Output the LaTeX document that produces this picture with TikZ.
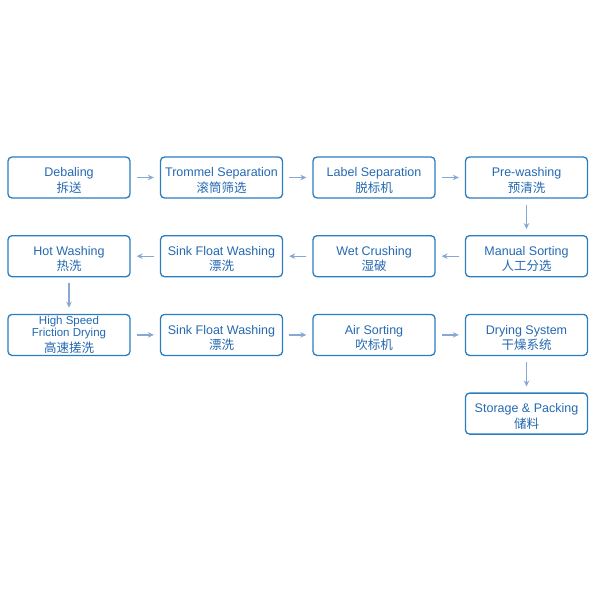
\documentclass[tikz,border=0pt]{standalone}
\usepackage{fontspec}
\setmainfont{Liberation Sans}
\newfontfamily\cjk{Noto Sans CJK SC}
\usetikzlibrary{arrows.meta, positioning}

\definecolor{boxblue}{RGB}{42,125,190}
\definecolor{textblue}{RGB}{36,104,176}
\definecolor{arrowblue}{RGB}{135,168,210}

% two-line label: english over chinese
\newcommand{\steptext}[2]{\rule{0pt}{15pt}#1\\{\cjk #2}}

\tikzset{
	stage/.style={draw=boxblue, line width=1.3pt, rounded corners=4pt, minimum width=122pt, minimum height=41pt, inner sep=1pt, align=center, text=textblue, font=\fontsize{12.5}{15.5}\selectfont},
	flow/.style={draw=arrowblue, line width=1.3pt, -{Stealth[length=6pt, width=5.5pt]}, shorten >=6pt, shorten <=6pt}
}

\begin{document}
\begin{tikzpicture}[x=1pt, y=1pt, node distance=78.7pt and 152.5pt, on grid]
	\useasboundingbox (0,0) rectangle (600,-600);

	% first row
	\node[stage] (deb) at (69,-177.5)	{\steptext{Debaling}{拆送}};
	\node[stage, right=of deb] (trom)	{\steptext{Trommel Separation}{滚筒筛选}};
	\node[stage, right=of trom] (label)	{\steptext{Label Separation}{脱标机}};
	\node[stage, right=of label] (pre)	{\steptext{Pre-washing}{预清洗}};

	% second row
	\node[stage, below=of pre] (man)	{\steptext{Manual Sorting}{人工分选}};
	\node[stage, left=of man] (wet)		{\steptext{Wet Crushing}{湿破}};
	\node[stage, left=of wet] (sinka)	{\steptext{Sink Float Washing}{漂洗}};
	\node[stage, left=of sinka] (hot)	{\steptext{Hot Washing}{热洗}};

	% third row
	\node[stage, below=of hot, font=\fontsize{11.5}{11.8}\selectfont] (fric)	{High Speed\\Friction Drying\\[1.5pt]{\cjk\fontsize{12.5}{15}\selectfont 高速搓洗}};
	\node[stage, right=of fric] (sinkb)	{\steptext{Sink Float Washing}{漂洗}};
	\node[stage, right=of sinkb] (air)	{\steptext{Air Sorting}{吹标机}};
	\node[stage, right=of air] (dry)	{\steptext{Drying System}{干燥系统}};

	% last
	\node[stage, below=of dry] (store)	{\steptext{Storage \& Packing}{储料}};

	\draw[flow] (deb) -- (trom);
	\draw[flow] (trom) -- (label);
	\draw[flow] (label) -- (pre);
	\draw[flow] (pre) -- (man);
	\draw[flow] (man) -- (wet);
	\draw[flow] (wet) -- (sinka);
	\draw[flow] (sinka) -- (hot);
	\draw[flow] (hot) -- (fric);
	\draw[flow] (fric) -- (sinkb);
	\draw[flow] (sinkb) -- (air);
	\draw[flow] (air) -- (dry);
	\draw[flow] (dry) -- (store);
\end{tikzpicture}
\end{document}
